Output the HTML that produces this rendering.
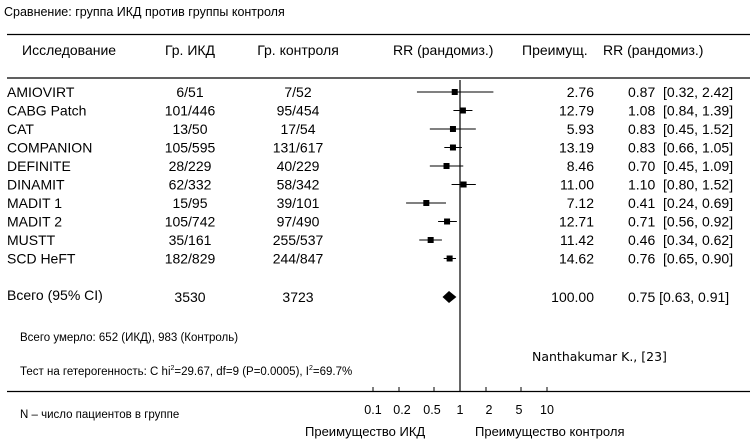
<!DOCTYPE html>
<html><head><meta charset="utf-8"><style>
body{margin:0;background:#fff}
svg text{font-family:"Liberation Sans",sans-serif;fill:#000;white-space:pre}
</style></head><body>
<svg width="750" height="442" viewBox="0 0 750 442" xmlns="http://www.w3.org/2000/svg">
<text x="4" y="16" font-size="12.5">Сравнение: группа ИКД против группы контроля</text>
<line x1="7" y1="34.5" x2="750" y2="34.5" stroke="#000" stroke-width="1.3"/>
<line x1="7" y1="78" x2="750" y2="78" stroke="#000" stroke-width="1.3"/>
<g font-size="14">
<text x="22" y="55">Исследование</text>
<text x="190" y="55" text-anchor="middle">Гр. ИКД</text>
<text x="298" y="55" text-anchor="middle">Гр. контроля</text>
<text x="393" y="55">RR (рандомиз.)</text>
<text x="522" y="55">Преимущ.</text>
<text x="603" y="55">RR (рандомиз.)</text>
</g>
<line x1="460" y1="80" x2="460" y2="391" stroke="#000" stroke-width="1.2"/>
<g font-size="14" id="rows"></g>
<g font-size="14">
<text x="7" y="300">Всего (95% CI)</text>
<text x="190" y="302" text-anchor="middle">3530</text>
<text x="298" y="302" text-anchor="middle">3723</text>
<text x="594" y="302" text-anchor="end">100.00</text>
<text x="628" y="302">0.75 [0.63, 0.91]</text>
</g>
<polygon points="442.5,297 449,291 456.4,297 449,303" fill="#000"/>
<text x="20" y="341" font-size="11.5">Всего умерло: 652 (ИКД), 983 (Контроль)</text>
<text x="20" y="375" font-size="11.5">Тест на гетерогенность: C hi<tspan font-size="7" dy="-5">2</tspan><tspan dy="5">=29.67, df=9 (P=0.0005), I</tspan><tspan font-size="7" dy="-5">2</tspan><tspan dy="5">=69.7%</tspan></text>
<text x="532" y="361" font-size="12.5" style="font-family:'DejaVu Sans',sans-serif">Nanthakumar K., [23]</text>
<line x1="7" y1="391.5" x2="750" y2="391.5" stroke="#000" stroke-width="1.2"/>
<g stroke="#000" stroke-width="1">
<line x1="373" y1="387" x2="373" y2="392"/><line x1="399" y1="387" x2="399" y2="392"/><line x1="434" y1="387" x2="434" y2="392"/><line x1="486" y1="387" x2="486" y2="392"/><line x1="521" y1="387" x2="521" y2="392"/><line x1="547" y1="387" x2="547" y2="392"/>
</g>
<g font-size="12.5" text-anchor="middle">
<text x="373" y="414">0.1</text><text x="402" y="414">0.2</text><text x="432" y="414">0.5</text><text x="460" y="414">1</text><text x="489" y="414">2</text><text x="519" y="414">5</text><text x="547" y="414">10</text>
</g>
<text x="20" y="418" font-size="11.5">N – число пациентов в группе</text>
<text x="305" y="436" font-size="13">Преимущество ИКД</text>
<text x="475" y="436" font-size="13">Преимущество контроля</text>
<g id="marks"></g>
</svg>
<script>
var d=[["AMIOVIRT","6/51","7/52","2.76",.87,.32,2.42],["CABG Patch","101/446","95/454","12.79",1.08,.84,1.39],["CAT","13/50","17/54","5.93",.83,.45,1.52],["COMPANION","105/595","131/617","13.19",.83,.66,1.05],["DEFINITE","28/229","40/229","8.46",.70,.45,1.09],["DINAMIT","62/332","58/342","11.00",1.10,.80,1.52],["MADIT 1","15/95","39/101","7.12",.41,.24,.69],["MADIT 2","105/742","97/490","12.71",.71,.56,.92],["MUSTT","35/161","255/537","11.42",.46,.34,.62],["SCD HeFT","182/829","244/847","14.62",.76,.65,.90]];
var ns="http://www.w3.org/2000/svg",R=document.getElementById("rows"),M=document.getElementById("marks");
function X(v){return 460+87*Math.log10(v)}
function t(x,y,s,a){var e=document.createElementNS(ns,"text");e.setAttribute("x",x);e.setAttribute("y",y);if(a)e.setAttribute("text-anchor",a);e.textContent=s;R.appendChild(e)}
function f(v){return v.toFixed(2)}
d.forEach(function(r,i){var y=92+i*18.5,b=y+5;
t(7,b,r[0]);t(190,b,r[1],"middle");t(298,b,r[2],"middle");t(594,b,r[3],"end");
t(628,b,f(r[4])+"  ["+f(r[5])+", "+f(r[6])+"]");
var l=document.createElementNS(ns,"line");l.setAttribute("x1",X(r[5]));l.setAttribute("x2",X(r[6]));l.setAttribute("y1",y);l.setAttribute("y2",y);l.setAttribute("stroke","#000");M.appendChild(l);
var q=document.createElementNS(ns,"rect");q.setAttribute("x",X(r[4])-3);q.setAttribute("y",y-3);q.setAttribute("width",6);q.setAttribute("height",6);M.appendChild(q);});
</script>
</body></html>
